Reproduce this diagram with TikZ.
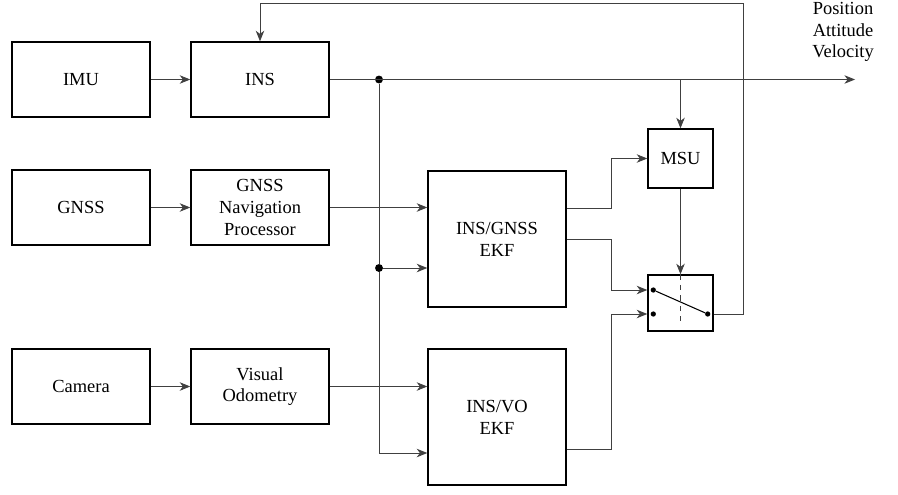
\documentclass[tikz,border=0pt]{standalone}
\usepackage{fontspec}
\setmainfont{Liberation Serif}
\usetikzlibrary{calc,arrows.meta}
\tikzset{
  blk/.style={draw,line width=0.8pt,minimum width=2.76cm,minimum height=1.5cm,align=center,inner sep=1pt},
  ekf/.style={blk,minimum height=2.72cm},
  sml/.style={blk,minimum width=1.3cm,minimum height=1.18cm},
  wire/.style={line width=0.5pt,black!75},
  jdot/.style={circle,fill,inner sep=0pt,minimum size=4.5pt},
  sdot/.style={circle,fill,inner sep=0pt,minimum size=3pt}
}

\begin{document}
\begin{tikzpicture}[x=0.02cm,y=-0.02cm,>={Stealth[length=6pt,width=4.8pt,inset=1.8pt]},
  font=\fontsize{10.5}{12.4}\selectfont]
  \useasboundingbox (0,0) rectangle (898,494);
  % blocks
  \node[blk] (imu) at (81,79.5) {IMU};
  \node[blk] (ins) at (260,79.5) {INS};
  \node[blk] (gnss) at (81,207.5) {GNSS};
  \node[blk] (gnp) at (260,207.5) {GNSS\\Navigation\\Processor};
  \node[blk] (cam) at (81,386.5) {Camera};
  \node[blk] (vo) at (260,386.5) {Visual\\Odometry};
  \node[ekf] (ekfg) at (497,239) {INS/GNSS\\EKF};
  \node[ekf] (ekfv) at (497,417) {INS/VO\\EKF};
  \node[sml] (msu) at (680.5,158.5) {MSU};
  \node[sml,minimum height=1.12cm] (sw) at (680.5,303) {};
  \node[jdot] (j1) at (379,79.5) {};
  \node[jdot] (j2) at (379,268) {};
  \coordinate (out) at (855,79.5);
  \coordinate (fb) at (743,3);
  \node[align=center] (pav) at (843,32) {Position\\Attitude\\Velocity};
  % connections
  \draw[wire,->] (imu) -- (ins);
  \draw[wire,->] (gnss) -- (gnp);
  \draw[wire,->] (cam) -- (vo);
  \draw[wire,->] (ins) -- (out);
  \draw[wire,->] (msu.north |- ins) -- (msu);
  \draw[wire,->] (gnp.east) -- (gnp.east -| ekfg.west);
  \draw[wire,->] (vo.east) -- (vo.east -| ekfv.west);
  \draw[wire] (j1) -- (j2);
  \draw[wire,->] (j2) -- (j2 -| ekfg.west);
  \draw[wire,->] (j2) |- ($(ekfv.west)+(0,36)$);
  \draw[wire,->] ($(ekfg.east)+(0,-31)$) -- ++(45,0) |- (msu.west);
  \draw[wire,->] (ekfg.east) -- ++(45,0) |- ($(sw.west)+(0,-13)$);
  \draw[wire,->] ($(ekfv.east)+(0,32)$) -- ++(45,0) |- ($(sw.west)+(0,11)$);
  \draw[wire,->] (msu) -- (sw);
  \draw[wire,->] ($(sw.east)+(0,11)$) -| (fb) -| (ins.north);
  % switch
  \node[sdot] (s1) at ($(sw.west)+(6,-13)$) {};
  \node[sdot] (s2) at ($(sw.west)+(6,11)$) {};
  \node[sdot] (s3) at ($(sw.east)+(-6,11)$) {};
  \draw[line width=0.6pt] (s1) -- (s3);
  \draw[wire,dashed] (sw.north) -- ($(sw.center)+(0,18)$);
\end{tikzpicture}
\end{document}
